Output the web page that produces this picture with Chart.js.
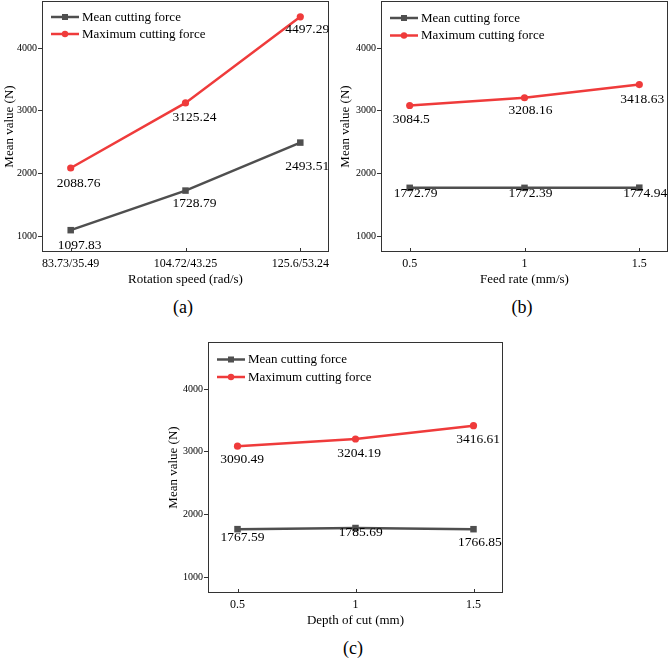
<!DOCTYPE html>
<html><head><meta charset="utf-8">
<script src="https://cdn.jsdelivr.net/npm/chart.js@4"></script>
<style>
body{margin:0;background:#fff;width:669px;height:658px;overflow:hidden;position:relative;}
canvas{position:absolute;}
.cap{position:absolute;font:18px "Liberation Serif";color:#000;transform:translate(-50%,-50%);line-height:18px;white-space:nowrap;}
</style></head><body>
<canvas id="ca" width="335" height="292" style="left:0;top:0;width:335px;height:292px"></canvas>
<canvas id="cb" width="334" height="292" style="left:335px;top:0;width:334px;height:292px"></canvas>
<canvas id="cc" width="345" height="313" style="left:160px;top:320px;width:345px;height:313px"></canvas>
<div class="cap" style="left:183px;top:307px">(a)</div>
<div class="cap" style="left:522px;top:307px">(b)</div>
<div class="cap" style="left:353px;top:648px">(c)</div>
<script>
// ---- data ----
const seriesNames = ['Mean cutting force', 'Maximum cutting force'];
const speedLabels = ['83.73/35.49', '104.72/43.25', '125.6/53.24'];
const speedMean = [1097.83, 1728.79, 2493.51];
const speedMax = [2088.76, 3125.24, 4497.29];
const feedRates = [0.5, 1, 1.5];
const feedMean = [1772.79, 1772.39, 1774.94];
const feedMax = [3084.5, 3208.16, 3418.63];
const depths = [0.5, 1, 1.5];
const depthMean = [1767.59, 1785.69, 1766.85];
const depthMax = [3090.49, 3204.19, 3416.61];
const yTicks = [1000, 2000, 3000, 4000];
const yMin = 750, yMax = 4750;

// ---- styles ----
const FONT = '"Liberation Serif", "Times New Roman", serif';
const GRAY = '#4f4f4f', RED = '#ef3b3b', AXIS = '#333';

const decor = {
  id: 'decor',
  afterDraw(chart, args, o) {
    const {ctx, chartArea: a, scales} = chart;
    ctx.save();
    // frame
    ctx.strokeStyle = AXIS; ctx.lineWidth = 1;
    ctx.strokeRect(Math.round(a.left) + 0.5, Math.round(a.top) + 0.5,
      Math.round(a.right - a.left) - 1, Math.round(a.bottom - a.top) - 1);
    // inward x ticks
    const xs = scales.x;
    xs.ticks.forEach(t => {
      const px = Math.round(xs.getPixelForValue(t.value)) + 0.5;
      ctx.beginPath(); ctx.moveTo(px, a.bottom); ctx.lineTo(px, a.bottom - 4); ctx.stroke();
    });
    // data labels
    ctx.fillStyle = '#000';
    ctx.font = '13.5px ' + FONT;
    ctx.textAlign = 'left'; ctx.textBaseline = 'alphabetic';
    chart.data.datasets.forEach((ds, i) => {
      const meta = chart.getDatasetMeta(i);
      meta.data.forEach((pt, j) => {
        const txt = String(ds.data[j].y);
        ctx.fillText(txt, pt.x + o.dx[i][j], pt.y + o.dy[i][j] + 4.6);
      });
    });
    // legend
    ctx.font = '13px ' + FONT;
    ctx.textBaseline = 'middle';
    chart.data.datasets.forEach((ds, i) => {
      const y = a.top + o.legY[i];
      const x0 = a.left + 9, x1 = a.left + 37, xm = (x0 + x1) / 2;
      ctx.strokeStyle = ds.borderColor; ctx.lineWidth = 2.5;
      ctx.beginPath(); ctx.moveTo(x0, y); ctx.lineTo(x1, y); ctx.stroke();
      ctx.fillStyle = ds.borderColor;
      if (ds.pointStyle === 'rect') { ctx.fillRect(xm - 3, y - 3, 6, 6); }
      else { ctx.beginPath(); ctx.arc(xm, y, 3.2, 0, Math.PI * 2); ctx.fill(); }
      ctx.fillStyle = '#000';
      ctx.fillText(ds.label, a.left + 40, y + 0.5);
    });
    ctx.restore();
  }
};

function zeroPad(s) { s.paddingTop = 0; s.paddingBottom = 0; s.paddingLeft = 0; s.paddingRight = 0; }

function makeChart(id, xs, mean, max, opt) {
  const pts = arr => arr.map((v, k) => ({x: xs[k], y: v}));
  const dsBase = {borderWidth: 2.5, showLine: true, tension: 0, clip: false};
  return new Chart(document.getElementById(id), {
    type: 'scatter',
    data: {
      datasets: [
        Object.assign({}, dsBase, {label: seriesNames[0], data: pts(mean), borderColor: GRAY, backgroundColor: GRAY,
          pointStyle: 'rect', pointRadius: 4.6, pointHoverRadius: 4.6, pointBorderWidth: 0}),
        Object.assign({}, dsBase, {label: seriesNames[1], data: pts(max), borderColor: RED, backgroundColor: RED,
          pointStyle: 'circle', pointRadius: 3.6, pointHoverRadius: 3.6, pointBorderWidth: 0})
      ]
    },
    options: {
      responsive: false, animation: false, devicePixelRatio: 1,
      layout: {padding: opt.pad, autoPadding: false},
      plugins: {legend: {display: false}, tooltip: {enabled: false}, decor: opt.labels},
      scales: {
        x: {
          type: 'linear', min: opt.xMin, max: opt.xMax,
          afterBuildTicks: s => { s.ticks = xs.map(v => ({value: v})); },
          afterFit: s => { s.height = 40; zeroPad(s); },
          grid: {display: false}, border: {display: false},
          ticks: {font: {family: FONT, size: 12}, color: '#000', padding: -3, maxRotation: 0,
            callback: opt.xFmt},
          title: {display: true, text: opt.xTitle, font: {family: FONT, size: 13}, color: '#000',
            padding: {top: 0, bottom: 5}}
        },
        y: {
          min: yMin, max: yMax,
          afterBuildTicks: s => { s.ticks = yTicks.map(v => ({value: v})); },
          afterFit: s => { s.width = opt.yW; zeroPad(s); },
          grid: {display: true, drawOnChartArea: false, drawTicks: true, tickLength: 4, color: AXIS},
          border: {display: false},
          ticks: {font: {family: FONT, size: 10}, color: '#000', padding: 1, callback: v => String(v)},
          title: {display: true, text: 'Mean value (N)', font: {family: FONT, size: 13}, color: '#000',
            padding: {top: opt.yTitlePad, bottom: 0}}
        }
      }
    },
    plugins: [decor]
  });
}

makeChart('ca', [0, 1, 2], speedMean, speedMax, {
  xMin: -0.25, xMax: 2.25, yW: 42, yTitlePad: 2,
  pad: {top: 1, right: 6, left: 0, bottom: 0},
  xTitle: 'Rotation speed (rad/s)',
  xFmt: v => speedLabels[Math.round(v)],
  labels: {dx: [[-13, -13, -15], [-14, -13, -15]], dy: [[14, 12, 22.5], [14, 13.5, 12]], legY: [16, 33]}
});
makeChart('cb', feedRates, feedMean, feedMax, {
  xMin: 0.375, xMax: 1.625, yW: 46, yTitlePad: 3,
  pad: {top: 1, right: 1, left: 0, bottom: 0},
  xTitle: 'Feed rate (mm/s)',
  xFmt: v => String(v),
  labels: {dx: [[-16, -16, -16], [-17, -16, -19]], dy: [[5, 5, 5], [13, 12, 13.7]], legY: [17, 34.5]}
});
makeChart('cc', depths, depthMean, depthMax, {
  xMin: 0.375, xMax: 1.625, yW: 48, yTitlePad: 6,
  pad: {top: 22, right: 2, left: 0, bottom: 0},
  xTitle: 'Depth of cut (mm)',
  xFmt: v => String(v),
  labels: {dx: [[-17, -16.7, -15.6], [-17.3, -18.3, -17.3]], dy: [[7.3, 3.4, 12.3], [12, 13.3, 12.6]], legY: [17.5, 35]}
});
</script>
</body></html>
